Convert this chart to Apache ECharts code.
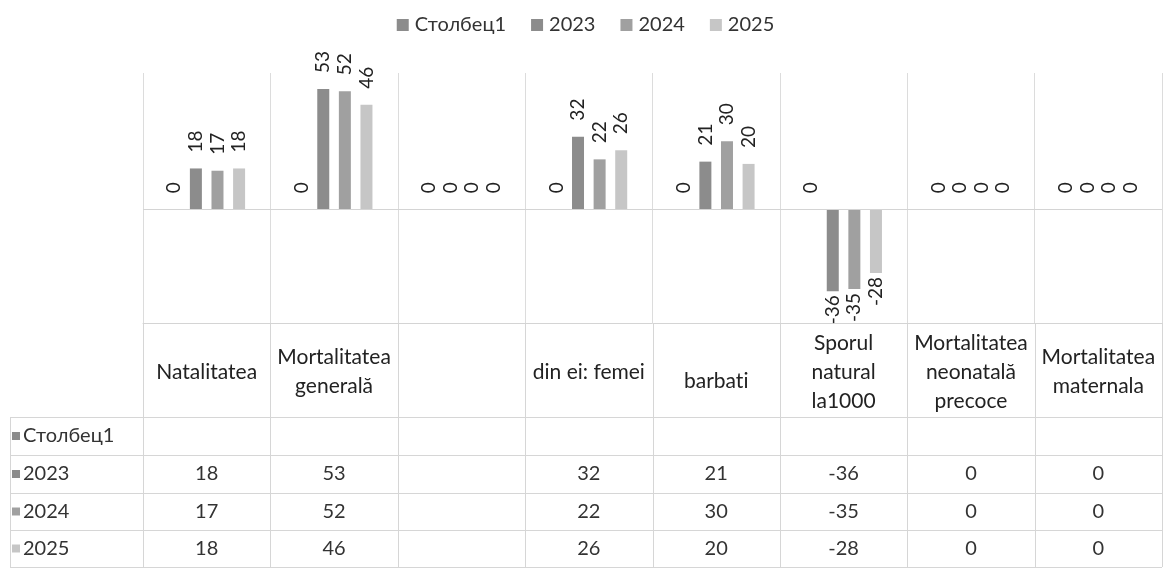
<!DOCTYPE html>
<html>
<head>
<meta charset="utf-8">
<script src="https://cdn.jsdelivr.net/npm/echarts@6/dist/echarts.min.js"></script>
<style>
    html, body { margin: 0; padding: 0; background: #fff; }
    #chart01 { width: 1171px; height: 573px; }
</style>
</head>
<body>
<div id="chart01"></div>
<script>
var categories = ['Natalitatea', 'Mortalitatea\ngenerală', '', 'din ei: femei', 'barbati', 'Sporul\nnatural\nla1000', 'Mortalitatea\nneonatală\nprecoce', 'Mortalitatea\nmaternala'];
var seriesNames = ['Столбец1', '2023', '2024', '2025'];
var valStolbec1 = [null, null, null, null, null, null, null, null];
var val2023 = [18, 53, null, 32, 21, -36, 0, 0];
var val2024 = [17, 52, null, 22, 30, -35, 0, 0];
var val2025 = [18, 46, null, 26, 20, -28, 0, 0];
var colors = ['#8c8c8c', '#8c8c8c', '#a0a0a0', '#c6c6c6'];

var FONT = 'Lato, "Noto Sans", sans-serif';
var allValues = [valStolbec1, val2023, val2024, val2025];

function chart01(id) {
    var myChart = echarts.init(document.getElementById(id));

    var series = seriesNames.map(function (name, s) {
        return {
            name: name,
            type: 'bar',
            barWidth: 12,
            barGap: '80%',
            barCategoryGap: '39%',
            itemStyle: { color: colors[s] },
            label: {
                show: true,
                position: 'top',
                rotate: 90,
                align: 'left',
                verticalAlign: 'middle',
                distance: 16,
                fontFamily: FONT,
                fontSize: 19,
                color: '#222'
            },
            data: allValues[s].map(function (v) {
                // пустые ячейки Excel показывает на графике как 0
                var val = v == null ? 0 : v;
                if (val < 0) {
                    return { value: val, label: { position: 'bottom', align: 'right', distance: 4 } };
                }
                return val;
            }),
            markLine: s === 0 ? {
                silent: true,
                symbol: 'none',
                label: { show: false },
                lineStyle: { color: '#d4d4d4', type: 'solid', width: 1 },
                data: [{ yAxis: 0 }]
            } : undefined
        };
    });

    var option = {
        animation: false,
        legend: {
            top: 10,
            left: 'center',
            itemWidth: 12,
            itemHeight: 12,
            itemGap: 25,
            icon: 'rect',
            textStyle: { fontFamily: FONT, fontSize: 20, color: '#333', padding: [0, 0, 0, 1] },
            data: seriesNames
        },
        grid: { left: 143, right: 9, top: 73, bottom: 250 },
        xAxis: {
            type: 'category',
            data: categories,
            axisLine: { show: true, onZero: false, lineStyle: { color: '#d4d4d4' } },
            axisTick: { show: false },
            splitLine: { show: true, lineStyle: { color: '#dcdcdc', width: 1 } },
            axisLabel: {
                interval: 0,
                margin: 49,
                verticalAlign: 'middle',
                lineHeight: 29,
                fontFamily: FONT,
                fontSize: 21,
                color: '#222',
                formatter: function (v) {
                    // отдельные куски, чтобы Lato не склеивал "ti" в лигатуру
                    return v === 'barbati' ? '{b|barbat}{b|i}' : v;
                },
                rich: {
                    b: { padding: [18, 0, 0, 0], fontFamily: FONT, fontSize: 21, color: '#222' }
                }
            }
        },
        yAxis: {
            type: 'value',
            min: -50,
            max: 60,
            show: false,
            splitLine: { show: false }
        },
        series: series
    };
    myChart.setOption(option);

    // таблица данных под графиком
    var rowTops = [417, 455, 493, 530, 567];
    var tableLeft = 10;
    var gridRight = 1162;
    var headTop = 323;
    var g = [];
    var lineStyle = { stroke: '#d6d6d6', lineWidth: 1 };
    var step = myChart.convertToPixel({ xAxisIndex: 0 }, 1) - myChart.convertToPixel({ xAxisIndex: 0 }, 0);
    rowTops.forEach(function (y) {
        g.push({ type: 'line', shape: { x1: tableLeft, y1: y + 0.5, x2: gridRight, y2: y + 0.5 }, style: lineStyle, silent: true });
    });
    g.push({ type: 'line', shape: { x1: tableLeft + 0.5, y1: rowTops[0], x2: tableLeft + 0.5, y2: rowTops[4] }, style: lineStyle, silent: true });
    for (var i = 0; i <= categories.length; i++) {
        var xb = Math.round(myChart.convertToPixel({ xAxisIndex: 0 }, i) - step / 2) + 0.5;
        if (i === categories.length) xb = Math.round(myChart.convertToPixel({ xAxisIndex: 0 }, i - 1) + step / 2) + 0.5;
        g.push({ type: 'line', shape: { x1: xb, y1: headTop, x2: xb, y2: rowTops[4] }, style: lineStyle, silent: true });
    }
    seriesNames.forEach(function (name, s) {
        var yc = (rowTops[s] + rowTops[s + 1]) / 2;
        g.push({ type: 'rect', shape: { x: 12, y: yc - 4, width: 8, height: 8 }, style: { fill: colors[s] }, silent: true });
        g.push({
            type: 'text', x: 23, y: yc,
            style: { text: name, fontFamily: FONT, fontSize: 20, fill: '#333', verticalAlign: 'middle', align: 'left' },
            silent: true
        });
        allValues[s].forEach(function (v, c) {
            if (v == null) return;
            var xc = myChart.convertToPixel({ xAxisIndex: 0 }, c);
            g.push({
                type: 'text', x: xc, y: yc,
                style: { text: String(v), fontFamily: FONT, fontSize: 20, fill: '#333', align: 'center', verticalAlign: 'middle' },
                silent: true
            });
        });
    });
    myChart.setOption({ graphic: g });
    return myChart;
}

var chartInit01 = chart01('chart01');
window.addEventListener('resize', function () {
    chartInit01.resize();
});
</script>
</body>
</html>
